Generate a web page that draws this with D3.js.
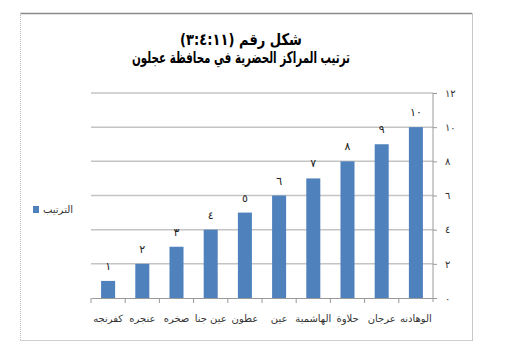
<html lang="ar">
<head>
    <meta charset="UTF-8">
    <title>ترتيب المراكز الحضرية</title>
    <script src="https://cdn.jsdelivr.net/npm/d3@7/dist/d3.min.js"></script>
    <style>
        body { margin: 0; background: #fff; }
        text { font-family: "DejaVu Sans", Arial, sans-serif; }
    </style>
</head>
<body>
    <svg id="svg"></svg>

    <script>
        var WIDTH = 511;
        var HEIGHT = 352;

        // data
        var centres = ["كفرنجه", "عنجره", "صخره", "عين جنا", "عطون", "عين", "الهاشمية", "حلاوة", "عرجان", "الوهادنه"];
        var ranks = [1, 2, 3, 4, 5, 6, 7, 8, 9, 10];
        var yTicks = [0, 2, 4, 6, 8, 10, 12];
        var titleLines = ["شكل رقم (٣:٤:١١)", "ترتيب المراكز الحضرية في محافظة عجلون"];
        var titleWidths = [122, 218];
        var legendLabel = "الترتيب";

        var arabicDigits = function(n){
            return String(n).replace(/[0-9]/g, function(c){ return "٠١٢٣٤٥٦٧٨٩"[+c]; });
        };

        var PLOT = {left: 91, right: 433, top: 93, bottom: 298};

        var svg = d3.select("#svg")
                    .attr("width", WIDTH)
                    .attr("height", HEIGHT);

        // chart frame
        svg.append("line").attr("x1", 20).attr("x2", 472).attr("y1", 13.5).attr("y2", 13.5)
           .attr("stroke", "#8a8a8a").attr("stroke-width", 1.5);
        svg.append("line").attr("x1", 472.5).attr("x2", 472.5).attr("y1", 13).attr("y2", 341)
           .attr("stroke", "#c8c8c8");
        svg.append("line").attr("x1", 20.5).attr("x2", 20.5).attr("y1", 13).attr("y2", 341)
           .attr("stroke", "#bdbdbd").attr("stroke-dasharray", "1,1");
        svg.append("line").attr("x1", 20).attr("x2", 472).attr("y1", 340.5).attr("y2", 340.5)
           .attr("stroke", "#d0d0d0");

        // title (compressed to the narrower Arabic face of the original)
        svg.selectAll(".title")
           .data(titleLines)
           .enter()
           .append("text")
           .attr("class", "title")
           .attr("x", function(d, i){ return 241 - titleWidths[i] / 2; })
           .attr("y", function(d, i){ return 45 + i * 18; })
           .attr("direction", "ltr")
           .attr("textLength", function(d, i){ return titleWidths[i]; })
           .attr("lengthAdjust", "spacingAndGlyphs")
           .attr("font-size", 16)
           .attr("font-weight", "bold")
           .attr("fill", "#000")
           .append("tspan")
           .style("unicode-bidi", "plaintext")
           .text(function(d){ return d; });

        var xScale = d3.scaleBand()
                       .domain(centres)
                       .range([PLOT.left, PLOT.right]);

        var yScale = d3.scaleLinear()
                       .domain([0, 12])
                       .range([PLOT.bottom, PLOT.top]);

        // gridlines
        svg.append("g")
           .selectAll("line")
           .data(yTicks.slice(1))
           .enter()
           .append("line")
           .attr("x1", PLOT.left)
           .attr("x2", PLOT.right)
           .attr("y1", function(d){ return yScale(d); })
           .attr("y2", function(d){ return yScale(d); })
           .attr("stroke", "#c4c4c4")
           .attr("stroke-width", 1.5);

        // right value axis
        var yAxis = d3.axisRight()
                      .scale(yScale)
                      .tickValues(yTicks)
                      .tickSize(4)
                      .tickPadding(8)
                      .tickFormat(arabicDigits);

        var gy = svg.append("g")
           .attr("transform", "translate(" + PLOT.right + ",0)")
           .call(yAxis);
        gy.select(".domain").attr("stroke", "#9a9a9a").attr("d", "M0," + (PLOT.bottom + 4) + "V" + PLOT.top);
        gy.selectAll(".tick line").attr("stroke", "#9a9a9a");
        gy.selectAll(".tick text")
          .attr("font-size", 10)
          .attr("fill", "#333")
          .style("font-family", "DejaVu Sans, sans-serif");

        // category axis
        var xAxis = d3.axisBottom()
                      .scale(xScale)
                      .tickSize(0)
                      .tickPadding(17);

        var gx = svg.append("g")
           .attr("transform", "translate(0," + PLOT.bottom + ")")
           .call(xAxis);
        gx.select(".domain").attr("stroke", "#9a9a9a");
        gx.selectAll(".tick text")
          .attr("font-size", 10)
          .attr("fill", "#333")
          .attr("direction", "rtl")
          .style("font-family", "DejaVu Sans, sans-serif");

        // boundary ticks between categories
        svg.append("g")
           .selectAll("line")
           .data(centres)
           .enter()
           .append("line")
           .attr("x1", function(d){ return xScale(d); })
           .attr("x2", function(d){ return xScale(d); })
           .attr("y1", PLOT.bottom)
           .attr("y2", PLOT.bottom + 5)
           .attr("stroke", "#9a9a9a");

        // bars
        var barW = xScale.bandwidth() * 0.41;
        svg.append("g")
           .selectAll("rect")
           .data(centres)
           .enter()
           .append("rect")
           .attr("x", function(d){ return xScale(d) + (xScale.bandwidth() - barW) / 2; })
           .attr("y", function(d, i){ return yScale(ranks[i]); })
           .attr("width", barW)
           .attr("height", function(d, i){ return PLOT.bottom - yScale(ranks[i]); })
           .attr("fill", "#4f81bd");

        // value labels
        svg.append("g")
           .selectAll("text")
           .data(centres)
           .enter()
           .append("text")
           .attr("x", function(d){ return xScale(d) + xScale.bandwidth() / 2; })
           .attr("y", function(d, i){ return yScale(ranks[i]) - 11; })
           .attr("text-anchor", "middle")
           .attr("font-size", 11)
           .attr("fill", "#222")
           .text(function(d, i){ return arabicDigits(ranks[i]); });

        // legend
        svg.append("rect")
           .attr("x", 33).attr("y", 206)
           .attr("width", 6).attr("height", 7)
           .attr("fill", "#4f81bd");
        svg.append("text")
           .attr("x", 43).attr("y", 213)
           .attr("font-size", 10)
           .attr("fill", "#333")
           .text(legendLabel);
    </script>
</body>
</html>
